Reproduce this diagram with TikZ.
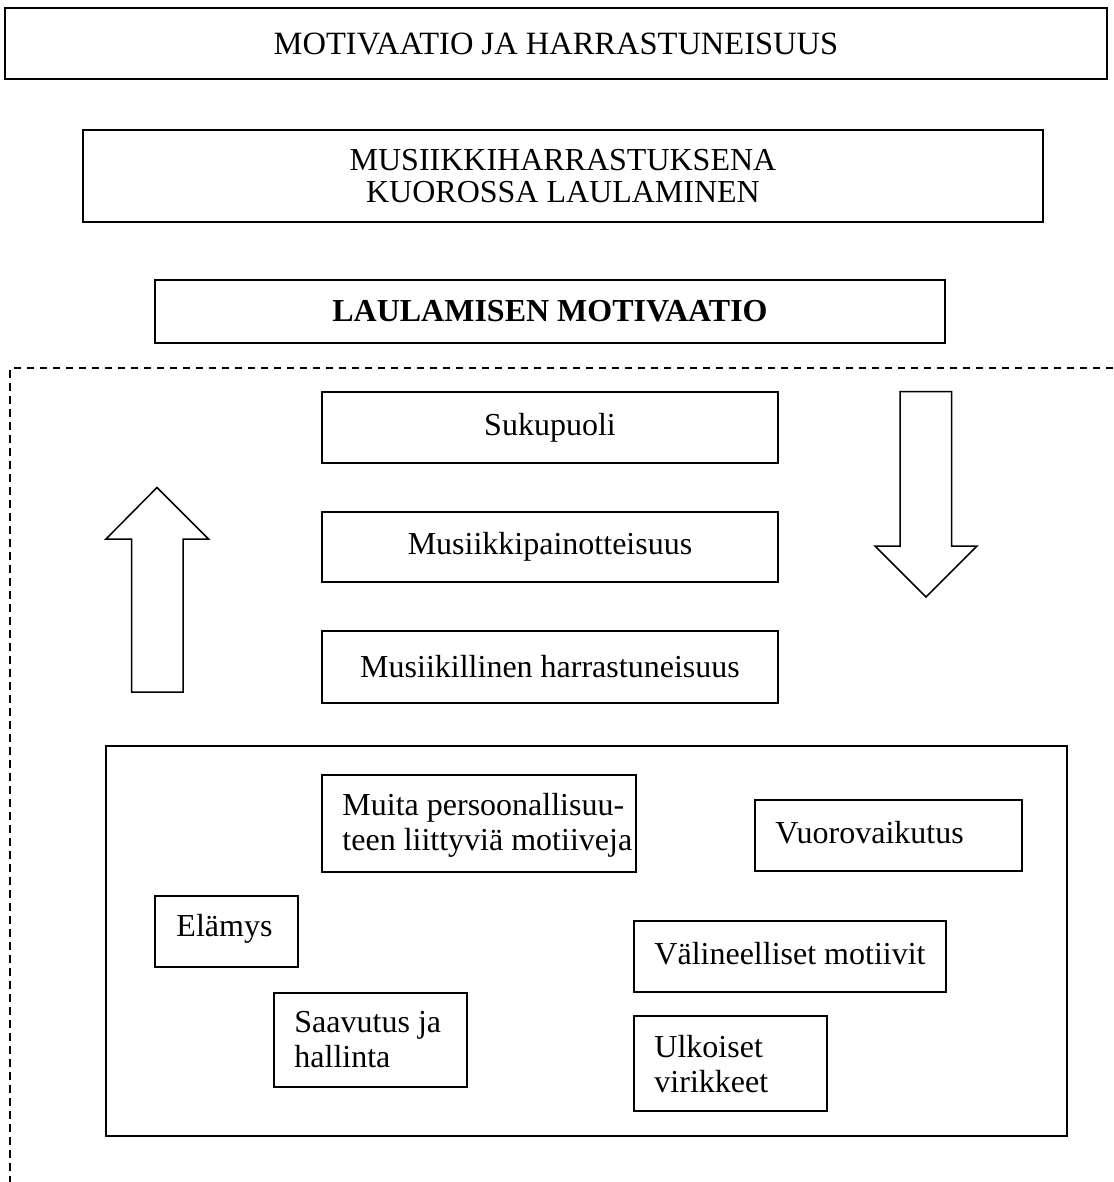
\documentclass[tikz,border=0pt]{standalone}
\usepackage{fontspec}
\setmainfont{Liberation Serif}
\begin{document}
\begin{tikzpicture}[x=1pt,y=-1pt,
  box/.style={draw,line width=1.5pt,rectangle,inner sep=0pt,font=\fontsize{32}{34}\selectfont,align=center},
  frame/.style={draw,line width=1.5pt,rectangle,inner sep=0pt},
  ctext/.style={inner sep=0pt,align=center},
  ltext/.style={anchor=west,inner sep=0pt,font=\fontsize{32}{35}\selectfont,align=left},
  bigarrow/.style={draw,line width=1.5pt,line join=miter,fill=white},
  dashline/.style={line width=1.6pt,dash pattern=on 7.5pt off 5.5pt}]
\useasboundingbox (0,0) rectangle (1113,1182);
% top boxes
\node[box,minimum width=1102pt,minimum height=71pt,font=\fontsize{32.5}{34}\selectfont] (t1) at (556,43.5) {MOTIVAATIO JA HARRASTUNEISUUS};
\node[frame,minimum width=960pt,minimum height=92pt] (t2) at (563,176) {};
\node[ctext,font=\fontsize{32}{31.5}\selectfont] (t2t) at ([yshift=0pt]t2.center) {MUSIIKKIHARRASTUKSENA\\KUOROSSA LAULAMINEN};
\node[box,minimum width=790pt,minimum height=63pt] (t3) at (550,311.5) {\bfseries LAULAMISEN MOTIVAATIO};
% dashed frame
\coordinate (dtr) at (1113,368);
\coordinate (dtl) at (10,368);
\coordinate (dbl) at (10,1182);
\draw[dashline] (dtr) -- (dtl) -- (dbl);
% middle boxes
\node[box,minimum width=456pt,minimum height=71pt] (suku) at (550,427.5) {Sukupuoli};
\node[box,minimum width=456pt,minimum height=70pt] (mpain) at (550,547) {Musiikkipainotteisuus};
\node[box,minimum width=456pt,minimum height=72pt] (mharr) at (550,667) {Musiikillinen harrastuneisuus};
% arrows
\draw[bigarrow] (157,487.5) -- (208.5,539) -- (183,539) -- (183,692) -- (131.5,692) -- (131.5,539) -- (106,539) -- cycle;
\draw[bigarrow] (900,391.5) -- (951.5,391.5) -- (951.5,546) -- (977,546) -- (926,597) -- (875,546) -- (900,546) -- cycle;
% inner big box
\node[frame,minimum width=961pt,minimum height=390pt] (inner) at (586.5,941) {};
\node[frame,minimum width=314pt,minimum height=97pt] (muita) at (479,823.5) {};
\node[ltext] (muitat) at ([xshift=21pt,yshift=-2pt]muita.west) {Muita persoonallisuu-\\teen liittyviä motiiveja};
\node[frame,minimum width=267pt,minimum height=71pt] (vuoro) at (888.5,835.5) {};
\node[ltext] (vuorot) at ([xshift=21pt,yshift=3pt]vuoro.west) {Vuorovaikutus};
\node[frame,minimum width=143pt,minimum height=71pt] (elamys) at (226.5,931.5) {};
\node[ltext] (elamyst) at ([xshift=22pt,yshift=3pt]elamys.west) {Elämys};
\node[frame,minimum width=312pt,minimum height=71pt] (valin) at (790,956.5) {};
\node[ltext] (valint) at ([xshift=21pt,yshift=3pt]valin.west) {Välineelliset motiivit};
\node[frame,minimum width=193pt,minimum height=94pt] (saav) at (370.5,1040) {};
\node[ltext] (saavt) at ([xshift=21pt,yshift=0pt]saav.west) {Saavutus ja\\hallinta};
\node[frame,minimum width=193pt,minimum height=95pt] (ulk) at (730.5,1063.5) {};
\node[ltext] (ulkt) at ([xshift=21pt,yshift=-1pt]ulk.west) {Ulkoiset\\virikkeet};
\end{tikzpicture}
\end{document}
